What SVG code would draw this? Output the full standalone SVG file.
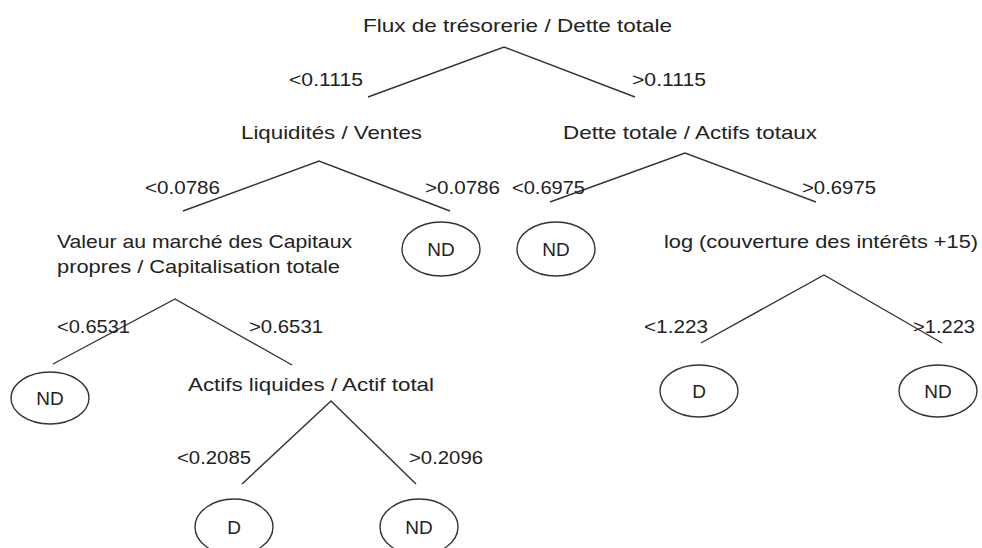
<svg xmlns="http://www.w3.org/2000/svg" width="982" height="548" viewBox="0 0 982 548">
<style>
text{font-family:"Liberation Sans",Arial,sans-serif;font-size:19px;fill:#222}
.l{fill:none;stroke:#333;stroke-width:1.4}
ellipse{fill:#fff;stroke:#333;stroke-width:1.4}
.c{text-anchor:middle}
</style>
<rect width="982" height="548" fill="#fff"/>
<g id="connectors">
<polyline class="l" points="368,97 504,47 635,97"/>
<polyline class="l" points="183,211 319,161 450,211"/>
<polyline class="l" points="550,202 685,153 816,202"/>
<polyline class="l" points="53,364 175,299 292,365"/>
<polyline class="l" points="242,484 331,401 416,484"/>
<polyline class="l" points="701,343 824,275 942,343"/>
<text x="289" y="86" textLength="74" lengthAdjust="spacingAndGlyphs">&lt;0.1115</text>
<text x="632" y="86" textLength="74" lengthAdjust="spacingAndGlyphs">&gt;0.1115</text>
<text x="145" y="194" textLength="75" lengthAdjust="spacingAndGlyphs">&lt;0.0786</text>
<text x="425" y="194" textLength="75" lengthAdjust="spacingAndGlyphs">&gt;0.0786</text>
<text x="512" y="194" textLength="73" lengthAdjust="spacingAndGlyphs">&lt;0.6975</text>
<text x="802" y="194" textLength="74" lengthAdjust="spacingAndGlyphs">&gt;0.6975</text>
<text x="57" y="333" textLength="73" lengthAdjust="spacingAndGlyphs">&lt;0.6531</text>
<text x="249" y="333" textLength="74" lengthAdjust="spacingAndGlyphs">&gt;0.6531</text>
<text x="177" y="464" textLength="74" lengthAdjust="spacingAndGlyphs">&lt;0.2085</text>
<text x="409" y="464" textLength="74" lengthAdjust="spacingAndGlyphs">&gt;0.2096</text>
<text x="644" y="333" textLength="64" lengthAdjust="spacingAndGlyphs">&lt;1.223</text>
<text x="913" y="333" textLength="62" lengthAdjust="spacingAndGlyphs">&gt;1.223</text>
</g>
<g id="root"><text x="363" y="32" textLength="309" lengthAdjust="spacingAndGlyphs">Flux de trésorerie / Dette totale</text></g>
<g id="liquidites"><text x="241" y="139" textLength="181" lengthAdjust="spacingAndGlyphs">Liquidités / Ventes</text></g>
<g id="dette"><text x="563" y="139" textLength="254" lengthAdjust="spacingAndGlyphs">Dette totale / Actifs totaux</text></g>
<g id="valeur"><text x="57" y="248" textLength="295" lengthAdjust="spacingAndGlyphs">Valeur au marché des Capitaux</text><text x="57" y="273" textLength="283" lengthAdjust="spacingAndGlyphs">propres / Capitalisation totale</text></g>
<g id="log"><text x="664" y="248" textLength="314" lengthAdjust="spacingAndGlyphs">log (couverture des intérêts +15)</text></g>
<g id="actifs"><text x="188" y="391" textLength="246" lengthAdjust="spacingAndGlyphs">Actifs liquides / Actif total</text></g>
<g id="nd1"><ellipse cx="441" cy="249" rx="39" ry="27"/><text class="c" x="441" y="256">ND</text></g>
<g id="nd2"><ellipse cx="556" cy="249" rx="39" ry="27"/><text class="c" x="556" y="256">ND</text></g>
<g id="nd3"><ellipse cx="50" cy="398" rx="39" ry="26"/><text class="c" x="50" y="405">ND</text></g>
<g id="d1"><ellipse cx="234" cy="527" rx="39" ry="28"/><text class="c" x="234" y="534">D</text></g>
<g id="nd4"><ellipse cx="419" cy="527" rx="39" ry="28"/><text class="c" x="419" y="534">ND</text></g>
<g id="d2"><ellipse cx="699" cy="391" rx="39" ry="26"/><text class="c" x="699" y="398">D</text></g>
<g id="nd5"><ellipse cx="938" cy="391" rx="39" ry="26"/><text class="c" x="938" y="398">ND</text></g>
</svg>
